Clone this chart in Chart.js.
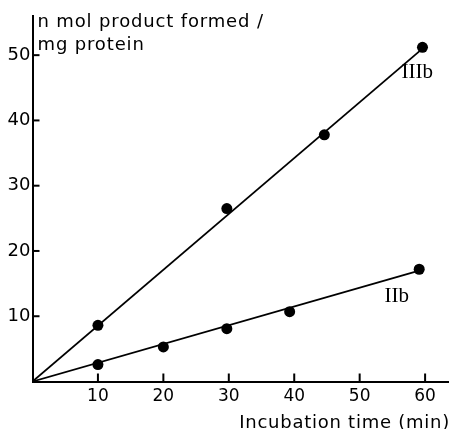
<!DOCTYPE html>
<html>
<head>
<meta charset="utf-8">
<script src="https://cdn.jsdelivr.net/npm/chart.js@4/dist/chart.umd.min.js"></script>
<style>
  html, body { margin: 0; padding: 0; background: #fff; }
  #wrap { width: 454px; height: 429px; }
</style>
</head>
<body>
<div id="wrap"><canvas id="c" width="454" height="429"></canvas></div>
<script>
// ---- data ----
const timeIIIb   = [10, 29.7, 44.6, 59.6];
const valuesIIIb = [8.6, 26.5, 37.8, 51.2];
const timeIIb    = [10, 20, 29.7, 39.3, 59.1];
const valuesIIb  = [2.6, 5.3, 8.1, 10.7, 17.2];
// fitted straight lines (through origin)
const fitTimeIIIb  = [0, 59.6];
const fitValueIIIb = [0, 51.0];
const fitTimeIIb   = [0, 59.1];
const fitValueIIb  = [0, 17.0];
const xTicks = [10, 20, 30, 40, 50, 60];
const yTicks = [10, 20, 30, 40, 50];
const seriesNames = ['IIIb', 'IIb'];
const yTitleLines = ['n mol product formed /', 'mg protein'];
const xTitle = 'Incubation time (min)';

const pts = (xs, ys) => xs.map((x, i) => ({x: x, y: ys[i]}));

const SANS = '"DejaVu Sans", sans-serif';
const SERIF = '"Liberation Serif", "DejaVu Serif", serif';

const annotate = {
  id: 'annotate',
  afterDraw(chart) {
    const ctx = chart.ctx;
    const xs = chart.scales.x, ys = chart.scales.y;
    const ca = chart.chartArea;
    ctx.save();
    ctx.strokeStyle = '#000';
    ctx.lineWidth = 2;
    // inward tick marks
    xTicks.forEach(v => {
      const px = xs.getPixelForValue(v);
      ctx.beginPath(); ctx.moveTo(px, ca.bottom); ctx.lineTo(px, ca.bottom - 8); ctx.stroke();
    });
    yTicks.forEach(v => {
      const py = ys.getPixelForValue(v);
      ctx.beginPath(); ctx.moveTo(ca.left, py); ctx.lineTo(ca.left + 7, py); ctx.stroke();
    });
    ctx.fillStyle = '#000';
    ctx.textBaseline = 'alphabetic';
    // y-axis title (horizontal, top left)
    ctx.font = '18px ' + SANS;
    ctx.letterSpacing = '0.85px';
    ctx.textAlign = 'left';
    ctx.fillText(yTitleLines[0], ca.left + 5, 27);
    ctx.fillText(yTitleLines[1], ca.left + 5, 50);
    // x-axis title (right aligned, below tick labels)
    ctx.letterSpacing = '0.75px';
    ctx.textAlign = 'right';
    ctx.fillText(xTitle, ca.right + 2, 428);
    // series labels
    ctx.letterSpacing = '0px';
    ctx.textAlign = 'left';
    ctx.font = '21px ' + SERIF;
    ctx.fillText(seriesNames[0], xs.getPixelForValue(56.4), ys.getPixelForValue(46.5));
    ctx.fillText(seriesNames[1], xs.getPixelForValue(53.8), ys.getPixelForValue(12.2));
    ctx.restore();
  }
};

new Chart(document.getElementById('c'), {
  type: 'scatter',
  data: {
    datasets: [
      { label: seriesNames[0] + ' fit', data: pts(fitTimeIIIb, fitValueIIIb), showLine: true,
        borderColor: '#000', borderWidth: 1.8, pointRadius: 0, fill: false },
      { label: seriesNames[1] + ' fit', data: pts(fitTimeIIb, fitValueIIb), showLine: true,
        borderColor: '#000', borderWidth: 1.8, pointRadius: 0, fill: false },
      { label: seriesNames[0], data: pts(timeIIIb, valuesIIIb), pointRadius: 5.5,
        backgroundColor: '#000', borderColor: '#000', borderWidth: 0 },
      { label: seriesNames[1], data: pts(timeIIb, valuesIIb), pointRadius: 5.5,
        backgroundColor: '#000', borderColor: '#000', borderWidth: 0 }
    ]
  },
  options: {
    responsive: false,
    animation: false,
    layout: { padding: { top: 16, right: 6, left: 0, bottom: 0 } },
    plugins: { legend: { display: false }, tooltip: { enabled: false } },
    scales: {
      x: {
        type: 'linear', min: 0, max: 63.5,
        afterFit(s) { s.height = 47.5; },
        border: { display: true, color: '#000', width: 2 },
        grid: { display: true, drawOnChartArea: false, drawTicks: false },
        ticks: {
          stepSize: 10, includeBounds: false, padding: 5, color: '#000',
          font: { family: SANS, size: 17 },
          callback: v => (v === 0 ? '' : String(v))
        }
      },
      y: {
        type: 'linear', min: 0, max: 56,
        afterFit(s) { s.width = 32.5; },
        border: { display: true, color: '#000', width: 2 },
        grid: { display: true, drawOnChartArea: false, drawTicks: false },
        ticks: {
          stepSize: 10, includeBounds: false, padding: 2, color: '#000',
          font: { family: SANS, size: 18 },
          callback: v => (v === 0 ? '' : String(v))
        }
      }
    }
  },
  plugins: [annotate]
});
</script>
</body>
</html>
